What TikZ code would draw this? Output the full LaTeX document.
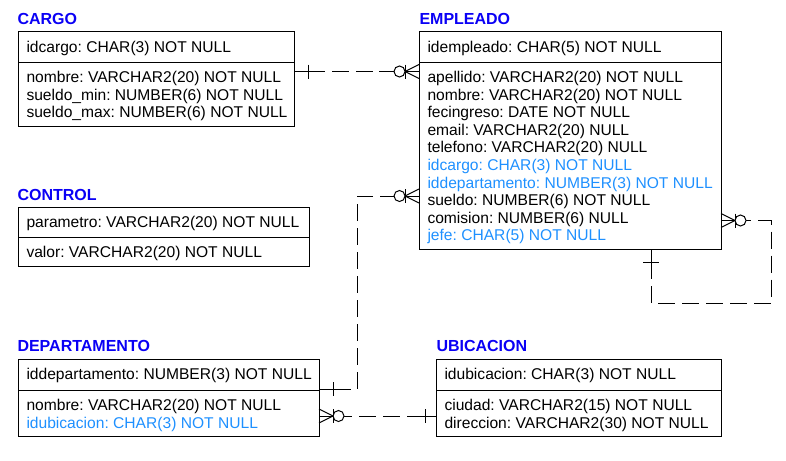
\documentclass[tikz,border=0pt]{standalone}
\usepackage{fontspec}
\setmainfont{Liberation Sans}
\frenchspacing
\definecolor{tituloazul}{RGB}{10,0,245}
\definecolor{fkazul}{RGB}{30,144,255}

\begin{document}
\begin{tikzpicture}[x=1pt, y=-1pt, line width=1pt,
	every node/.style={font=\fontsize{15.6pt}{17.6pt}\selectfont},
	tabla/.style={draw, anchor=north west, inner sep=0pt, outer sep=0pt},
	campo/.style={anchor=base west, inner sep=0pt},
	fk/.style={campo, text=fkazul},
	titulo/.style={anchor=base west, inner sep=0pt, text=tituloazul,
		font=\fontsize{16pt}{17.6pt}\selectfont\bfseries},
	rel/.style={dash pattern=on 17pt off 7pt, dash phase=17pt}]
	\useasboundingbox (0,0) rectangle (786,460);

	% Tabelle CARGO
	\node[titulo] (cargoTit) at (17,25) {CARGO};
	\node[tabla, minimum width=276pt, minimum height=30pt] (cargoPK) at (18,32) {};
	\node[tabla, minimum width=276pt, minimum height=64pt] (cargoAt) at (18,62) {};
	\node[campo] (cargoId) at (26,52.5) {idcargo: CHAR(3) NOT NULL};
	\node[campo] (cargoNom) at (26,82.5) {nombre: VARCHAR2(20) NOT NULL};
	\node[campo] (cargoMin) at (26,100.1) {sueldo\_min: NUMBER(6) NOT NULL};
	\node[campo] (cargoMax) at (26,117.7) {sueldo\_max: NUMBER(6) NOT NULL};

	% Tabelle EMPLEADO
	\node[titulo] (empTit) at (419,25) {EMPLEADO};
	\node[tabla, minimum width=302pt, minimum height=30pt] (empPK) at (419,32) {};
	\node[tabla, minimum width=302pt, minimum height=187pt] (empAt) at (419,62) {};
	\node[campo] (empId) at (427,52.5) {idempleado: CHAR(5) NOT NULL};
	\node[campo] (empApe) at (427,82.5) {apellido: VARCHAR2(20) NOT NULL};
	\node[campo] (empNom) at (427,100.1) {nombre: VARCHAR2(20) NOT NULL};
	\node[campo] (empFec) at (427,117.7) {fecingreso: DATE NOT NULL};
	\node[campo] (empMail) at (427,135.3) {email: VARCHAR2(20) NULL};
	\node[campo] (empTel) at (427,152.9) {telefono: VARCHAR2(20) NULL};
	\node[fk] (empCargo) at (427,170.5) {idcargo: CHAR(3) NOT NULL};
	\node[fk] (empDep) at (427,188.1) {iddepartamento: NUMBER(3) NOT NULL};
	\node[campo] (empSuel) at (427,205.7) {sueldo: NUMBER(6) NOT NULL};
	\node[campo] (empCom) at (427,223.3) {comision: NUMBER(6) NULL};
	\node[fk] (empJefe) at (427,240.9) {jefe: CHAR(5) NOT NULL};

	% Tabelle CONTROL
	\node[titulo] (ctrlTit) at (17,200.5) {CONTROL};
	\node[tabla, minimum width=291pt, minimum height=30pt] (ctrlPK) at (18,207) {};
	\node[tabla, minimum width=291pt, minimum height=29pt] (ctrlAt) at (18,237) {};
	\node[campo] (ctrlPar) at (26,227.5) {parametro: VARCHAR2(20) NOT NULL};
	\node[campo] (ctrlVal) at (26,257.5) {valor: VARCHAR2(20) NOT NULL};

	% Tabelle DEPARTAMENTO
	\node[titulo] (depTit) at (17,351.5) {DEPARTAMENTO};
	\node[tabla, minimum width=301pt, minimum height=31pt] (depPK) at (18,359) {};
	\node[tabla, minimum width=301pt, minimum height=46pt] (depAt) at (18,390) {};
	\node[campo] (depId) at (26,379.5) {iddepartamento: NUMBER(3) NOT NULL};
	\node[campo] (depNom) at (26,410.5) {nombre: VARCHAR2(20) NOT NULL};
	\node[fk] (depUbi) at (26,428.1) {idubicacion: CHAR(3) NOT NULL};

	% Tabelle UBICACION
	\node[titulo] (ubiTit) at (436,351.5) {UBICACION};
	\node[tabla, minimum width=285pt, minimum height=31pt] (ubiPK) at (436,359) {};
	\node[tabla, minimum width=285pt, minimum height=46pt] (ubiAt) at (436,390) {};
	\node[campo] (ubiId) at (444,379.5) {idubicacion: CHAR(3) NOT NULL};
	\node[campo] (ubiCiu) at (444,410.5) {ciudad: VARCHAR2(15) NOT NULL};
	\node[campo] (ubiDir) at (444,428.1) {direccion: VARCHAR2(30) NOT NULL};

	% CARGO -- EMPLEADO
	\coordinate (ra1) at ([yshift=-9.5pt]cargoAt.north east);
	\coordinate (ra2) at ([yshift=-9.5pt]empAt.north west);
	\draw[rel] ([xshift=31pt]ra1) -- ([xshift=-40pt]ra2);
	\draw (ra1) -- ([xshift=31pt]ra1);
	\draw ([xshift=14pt]ra1) ++(0,-7) -- ++(0,14);
	\draw ([xshift=-40pt]ra2) -- (ra2);
	\draw (ra2) ++(0,-7) -- ++(-14,7) -- ++(14,7);
	\draw (ra2) ++(-14,-7) -- ++(0,14);
	\draw[fill=white] (ra2) ++(-19.5,0) circle[radius=5.5];

	% DEPARTAMENTO -- EMPLEADO
	\coordinate (rb1) at ([yshift=-134pt]empAt.north west);
	\coordinate (rb2) at ([yshift=1pt]depPK.south east);
	\draw[rel] ([xshift=-39pt]rb1) -- ++(-23,0) |- ([xshift=32pt]rb2);
	\draw (rb2) -- ([xshift=32pt]rb2);
	\draw (rb2) ++(14,-7) -- ++(0,14);
	\draw ([xshift=-39pt]rb1) -- (rb1);
	\draw (rb1) ++(0,-7) -- ++(-14,7) -- ++(14,7);
	\draw (rb1) ++(-14,-7) -- ++(0,14);
	\draw[fill=white] (rb1) ++(-19.5,0) circle[radius=5.5];

	% UBICACION -- DEPARTAMENTO
	\coordinate (rc1) at ([yshift=-26pt]depAt.north east);
	\coordinate (rc2) at ([yshift=-26pt]ubiAt.north west);
	\draw[rel] ([xshift=33pt]rc1) -- ([xshift=-29pt]rc2);
	\draw (rc1) -- ([xshift=33pt]rc1);
	\draw (rc1) ++(0,-7) -- ++(14,7) -- ++(-14,7);
	\draw (rc1) ++(14,-7) -- ++(0,14);
	\draw[fill=white] (rc1) ++(19.5,0) circle[radius=5.5];
	\draw (rc2) -- ([xshift=-29pt]rc2);
	\draw (rc2) ++(-11,-7) -- ++(0,14);

	% EMPLEADO -- EMPLEADO (jefe)
	\coordinate (rd1) at ([yshift=-158.5pt]empAt.north east);
	\coordinate (rd2) at ([xshift=-70pt]empAt.south east);
	\draw[rel] ([xshift=30pt]rd1) -- ++(20,0) -- ++(0,82.5) -| ([yshift=-30pt]rd2);
	\draw (rd2) -- ([yshift=-30pt]rd2);
	\draw (rd2) ++(-8,13) -- ++(16,0);
	\draw (rd1) -- ([xshift=30pt]rd1);
	\draw (rd1) ++(0,-7) -- ++(14,7) -- ++(-14,7);
	\draw (rd1) ++(14,-7) -- ++(0,14);
	\draw[fill=white] (rd1) ++(19.5,0) circle[radius=5.5];
\end{tikzpicture}
\end{document}
